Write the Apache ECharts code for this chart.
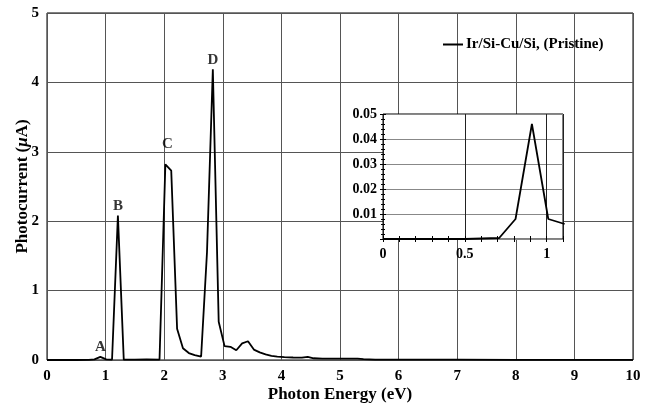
<!DOCTYPE html>
<html>
<head>
<meta charset="utf-8">
<script src="https://cdn.jsdelivr.net/npm/echarts@6/dist/echarts.min.js"></script>
<style>
  html, body { margin: 0; padding: 0; background: #fff; }
  #chart { width: 651px; height: 407px; }
</style>
</head>
<body>
<div id="chart"></div>
<script>
// photon energy (eV) and photocurrent (uA)
const energy = [0, 0.5, 0.71, 0.81, 0.91, 1.01, 1.11, 1.21, 1.31, 1.5, 1.7, 1.92,
  2.02, 2.12, 2.22, 2.32, 2.42, 2.52, 2.63, 2.73, 2.83, 2.93, 3.03, 3.13, 3.23,
  3.33, 3.43, 3.53, 3.63, 3.73, 3.83, 3.93, 4.05, 4.2, 4.35, 4.45, 4.55, 4.7,
  5.0, 5.3, 5.4, 5.6, 6.0, 7.0, 8.0, 9.0, 10.0];
const current = [0, 0, 0.0004, 0.008, 0.046, 0.008, 0.006, 2.08, 0.004, 0.006, 0.008, 0.006,
  2.82, 2.73, 0.45, 0.17, 0.1, 0.07, 0.05, 1.55, 4.19, 0.55, 0.2, 0.19, 0.14,
  0.24, 0.27, 0.15, 0.11, 0.08, 0.06, 0.05, 0.04, 0.036, 0.034, 0.045, 0.025, 0.02,
  0.02, 0.02, 0.012, 0.006, 0.005, 0.004, 0.003, 0.003, 0.003];

const peakNames = ['A', 'B', 'C', 'D'];
const peakEnergy = [0.91, 1.21, 2.02, 2.83];
const peakCurrent = [0.046, 2.08, 2.82, 4.19];

const seriesName = 'Ir/Si-Cu/Si, (Pristine)';
const insetMaxEnergy = 1.1;

// label distances above each peak (style only)
const peakLabelGap = [2, 2, 12, 1];
const peakLabelShift = [0, 0, 2, 0];

const serif = '"Liberation Serif", "Times New Roman", serif';
const points = energy.map((x, i) => [x, current[i]]);
// inset only needs the low-energy part (keeps the steep B edge out of its clip box)
const insetPoints = points.filter((p) => p[0] <= insetMaxEnergy + 0.02);

const chart = echarts.init(document.getElementById('chart'));

const tickFont = { fontFamily: serif, fontWeight: 'bold', fontSize: 15, color: '#000' };
const insetFont = { fontFamily: serif, fontWeight: 'bold', fontSize: 14, color: '#000' };

const option = {
  animation: false,
  backgroundColor: '#fff',
  legend: {
    data: [{ name: seriesName, icon: 'rect' }],
    left: 443,
    top: 37,
    padding: 0,
    itemWidth: 20,
    itemHeight: 2,
    textStyle: { fontFamily: serif, fontWeight: 'bold', fontSize: 15, color: '#000', padding: [0, 0, 0, -2] },
  },
  grid: [
    { left: 47, right: 18, top: 13, bottom: 47, outerBoundsMode: 'none', show: true, borderColor: '#000', borderWidth: 1 },
    { left: 383, top: 114, width: 180, height: 125, outerBoundsMode: 'none', show: true, backgroundColor: '#fff', borderColor: '#000', borderWidth: 1, z: 5 },
  ],
  xAxis: [
    {
      gridIndex: 0,
      type: 'value',
      min: 0,
      max: 10,
      interval: 1,
      axisLine: { show: false },
      axisTick: { show: false },
      splitLine: { lineStyle: { color: '#555', width: 1 } },
      axisLabel: Object.assign({ margin: 9 }, tickFont),
      name: 'Photon Energy (eV)',
      nameLocation: 'middle',
      nameMoveOverlap: false,
      nameGap: 26,
      nameTextStyle: { fontFamily: serif, fontWeight: 'bold', fontSize: 17, color: '#000' },
    },
    {
      gridIndex: 1,
      type: 'value',
      min: 0,
      max: insetMaxEnergy,
      interval: 0.5,
      z: 6,
      axisLine: { show: false },
      axisTick: { show: true, inside: true, length: 3, lineStyle: { color: '#000' } },
      minorTick: { show: true, splitNumber: 5, length: 3, lineStyle: { color: '#000' } },
      splitLine: { lineStyle: { color: '#222', width: 1 } },
      axisLabel: Object.assign({ margin: 8, showMaxLabel: false }, insetFont),
    },
    {
      gridIndex: 1,
      type: 'value',
      position: 'top',
      min: 0,
      max: insetMaxEnergy,
      interval: 0.5,
      z: 6,
      axisLine: { show: false },
      axisTick: { show: true, inside: true, length: 3, lineStyle: { color: '#000' } },
      minorTick: { show: true, splitNumber: 5, length: 3, lineStyle: { color: '#000' } },
      splitLine: { show: false },
      axisLabel: { show: false },
    },
  ],
  yAxis: [
    {
      gridIndex: 0,
      type: 'value',
      min: 0,
      max: 5,
      interval: 1,
      axisLine: { show: false },
      axisTick: { show: false },
      splitLine: { lineStyle: { color: '#555', width: 1 } },
      axisLabel: Object.assign({ margin: 8 }, tickFont),
      name: '{b|Photocurrent (}{i|μ}{b|A)}',
      nameLocation: 'middle',
      nameMoveOverlap: false,
      nameGap: 16,
      nameTextStyle: {
        rich: {
          b: { fontFamily: serif, fontWeight: 'bold', fontSize: 17, color: '#000' },
          i: { fontFamily: serif, fontWeight: 'bold', fontStyle: 'italic', fontSize: 17, color: '#000' },
        },
      },
    },
    {
      gridIndex: 1,
      type: 'value',
      min: 0,
      max: 0.05,
      interval: 0.01,
      z: 6,
      axisLine: { show: false },
      axisTick: { show: true, inside: true, length: 3, lineStyle: { color: '#000' } },
      minorTick: { show: true, splitNumber: 5, length: 2, lineStyle: { color: '#000' } },
      splitLine: { lineStyle: { color: '#888', width: 1 } },
      axisLabel: Object.assign({
        margin: 6,
        formatter: (v) => (v === 0 ? '' : v.toFixed(2)),
      }, insetFont),
    },
    {
      gridIndex: 1,
      type: 'value',
      position: 'right',
      min: 0,
      max: 0.05,
      interval: 0.01,
      z: 6,
      axisLine: { show: false },
      axisTick: { show: true, inside: true, length: 3, lineStyle: { color: '#000' } },
      minorTick: { show: true, splitNumber: 5, length: 2, lineStyle: { color: '#000' } },
      splitLine: { show: false },
      axisLabel: { show: false },
    },
  ],
  series: [
    {
      name: seriesName,
      type: 'line',
      xAxisIndex: 0,
      yAxisIndex: 0,
      data: points,
      symbol: 'none',
      z: 3,
      color: '#000',
      lineStyle: { color: '#000', width: 1.8 },
    },
    {
      // peak letters
      name: 'peaks',
      type: 'scatter',
      xAxisIndex: 0,
      yAxisIndex: 0,
      symbolSize: 1,
      z: 4,
      itemStyle: { color: 'rgba(0,0,0,0)' },
      data: peakEnergy.map((x, i) => ({
        value: [x, peakCurrent[i]],
        name: peakNames[i],
        label: {
          show: true,
          position: 'top',
          distance: peakLabelGap[i],
          offset: [peakLabelShift[i], 0],
          formatter: '{b}',
          fontFamily: serif,
          fontWeight: 'bold',
          fontSize: 15,
          color: '#000',
        },
      })),
    },
    {
      name: 'inset',
      type: 'line',
      xAxisIndex: 1,
      yAxisIndex: 1,
      data: insetPoints,
      symbol: 'none',
      clip: true,
      z: 7,
      color: '#000',
      lineStyle: { color: '#000', width: 1.8 },
    },
  ],
};

chart.setOption(option);
</script>
</body>
</html>
